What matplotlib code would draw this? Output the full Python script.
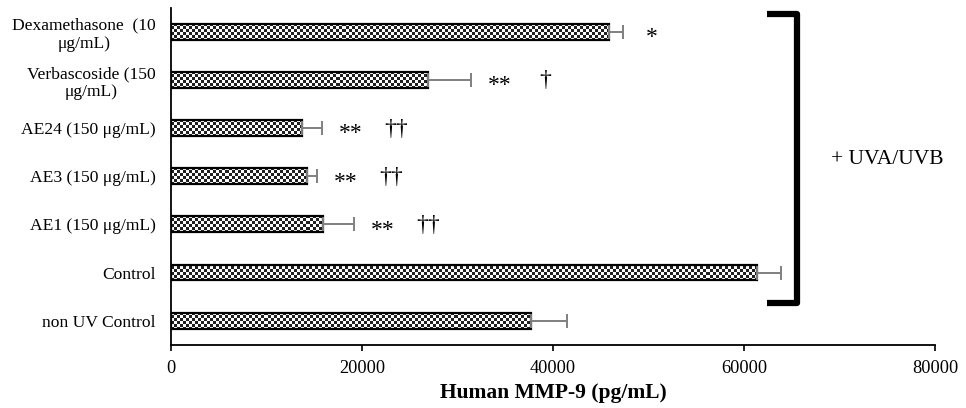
import numpy as np
import matplotlib
matplotlib.use('Agg')
from matplotlib import pyplot as plt

plt.rcParams['font.family'] = ['Liberation Serif', 'DejaVu Serif']

# top to bottom
labels = ['Dexamethasone  (10\nμg/mL)', 'Verbascoside (150\nμg/mL)',
          'AE24 (150 μg/mL)', 'AE3 (150 μg/mL)', 'AE1 (150 μg/mL)',
          'Control', 'non UV Control']
values = [45850, 26900, 13700, 14250, 15900, 61350, 37700]
errors = [1480, 4500, 2100, 1050, 3250, 2500, 3770]
stars = ['*', '**', '**', '**', '**', '', '']
daggers = ['', '†', '††', '††', '††', '', '']

fig = plt.figure(figsize=(9.66, 4.08), dpi=100)
ax = fig.add_axes([0.177, 0.155, 0.791, 0.826])

y = np.arange(len(labels))
ax.set_xlim(0, 80000)
ax.set_ylim(len(labels) - 0.5, -0.5)

# checkerboard fill, 3 px cells
nx, ny = 764 // 3, 337 // 3
checker = (np.add.outer(np.arange(ny), np.arange(nx)) % 2).astype(float)

bars = ax.barh(y, values, height=0.33, facecolor='none', edgecolor='black',
               linewidth=1.6, zorder=3)
for b in bars:
    im = ax.imshow(checker, extent=[0, 80000, len(labels) - 0.5, -0.5],
                   aspect='auto', cmap='gray', vmin=-0.15, vmax=1,
                   interpolation='nearest', zorder=2)
    im.set_clip_path(b)

ax.errorbar(values, y, xerr=[np.zeros(len(values)), errors], fmt='none',
            ecolor='#7f7f7f', elinewidth=1.4, capsize=5, capthick=1.4, zorder=4)

for i in range(len(labels)):
    end = values[i] + errors[i]
    if stars[i]:
        ax.text(end + 3000, y[i] + 0.12, stars[i], ha='center', va='center',
                fontsize=17)
    if daggers[i]:
        ax.text(end + 7800, y[i] + 0.02, daggers[i], ha='center', va='center',
                fontsize=17)

# bracket for the UV-exposed groups
ax.plot([62400, 65500, 65500, 62400], [-0.36, -0.36, 5.64, 5.64],
        color='black', lw=4.5, solid_joinstyle='round', solid_capstyle='butt',
        clip_on=False, zorder=5)
ax.text(75000, 2.65, '+ UVA/UVB', ha='center', va='center', fontsize=15.5,
        clip_on=False)

ax.set_yticks(y)
ax.set_yticklabels(labels, fontsize=12.6)
for lbl in ax.get_yticklabels():
    lbl.set_multialignment('center')
ax.tick_params(axis='y', length=0, pad=11)
ax.set_xticks([0, 20000, 40000, 60000, 80000])
ax.set_xticklabels(['0', '20000', '40000', '60000', '80000'], fontsize=13.2)
ax.tick_params(axis='x', direction='out', length=4, width=1.2, pad=7)
ax.set_xlabel('Human MMP-9 (pg/mL)', fontsize=15.5, fontweight='bold', labelpad=4)

for s in ['top', 'right']:
    ax.spines[s].set_visible(False)
for s in ['left', 'bottom']:
    ax.spines[s].set_linewidth(1.3)

fig.savefig('out.png', dpi=100)
